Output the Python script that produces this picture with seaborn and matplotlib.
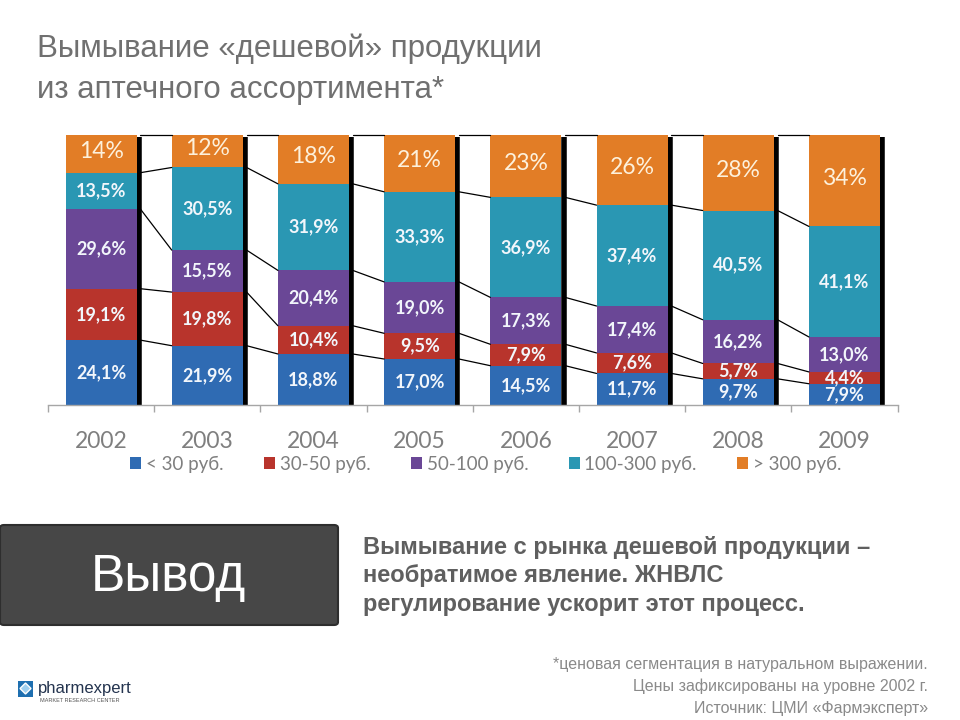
import numpy as np
import matplotlib
matplotlib.use("Agg")
import matplotlib.pyplot as plt
import seaborn as sns
from matplotlib.patches import FancyBboxPatch, Rectangle, Patch, Polygon

# ---- data ----
years = ["2002", "2003", "2004", "2005", "2006", "2007", "2008", "2009"]
segments = ["< 30 руб.", "30-50 руб.", "50-100 руб.", "100-300 руб.", "> 300 руб."]
lt30 = [24.1, 21.9, 18.8, 17.0, 14.5, 11.7, 9.7, 7.9]
r30_50 = [19.1, 19.8, 10.4, 9.5, 7.9, 7.6, 5.7, 4.4]
r50_100 = [29.6, 15.5, 20.4, 19.0, 17.3, 17.4, 16.2, 13.0]
r100_300 = [13.5, 30.5, 31.9, 33.3, 36.9, 37.4, 40.5, 41.1]
gt300 = [14, 12, 18, 21, 23, 26, 28, 34]
colors = ["#2f6bb3", "#b8342c", "#6a4796", "#2a97b3", "#e27d26"]

sns.set_theme(style="white")
plt.rcParams["font.family"] = ["Liberation Sans", "DejaVu Sans"]

vals = np.array([lt30, r30_50, r50_100, r100_300, gt300], dtype=float)
shares = vals / vals.sum(axis=0) * 100.0
cum = np.cumsum(shares, axis=0)
lower = cum - shares

fig = plt.figure(figsize=(9.6, 7.2), dpi=100)
ax = fig.add_axes([0.05, 1 - 405 / 720, 0.885, 270 / 720])

W = 0.67
n = len(years)
xs = np.arange(n)

# shadows on right of bars
ax.vlines(xs + W / 2 + 0.02, 0, 99.2, color="black", lw=4, zorder=0.8)

# stacked bars drawn as cumulative overlays (top first)
for k in range(len(segments) - 1, -1, -1):
    sns.barplot(x=years, y=cum[k], color=colors[k], width=W, saturation=1,
                linewidth=0, ax=ax, zorder=1)

# connecting lines
for k in range(len(segments)):
    for i in range(n - 1):
        ax.plot([i + W / 2 + 0.035, i + 1 - W / 2], [cum[k][i], cum[k][i + 1]],
                color="black", lw=0.9, zorder=2, clip_on=False)

# labels
for k in range(len(segments)):
    for i in range(n):
        mid = (lower[k][i] + cum[k][i]) / 2
        if k == 4:
            txt = f"{int(vals[k][i])}%"
            ax.text(i, mid + 1, txt, ha="center", va="center", fontsize=16.5,
                    color="#fdf1dc", family=["Lato", "DejaVu Sans"], zorder=3)
        else:
            txt = f"{vals[k][i]:.1f}%".replace(".", ",")
            ax.text(i, mid, txt, ha="center", va="center", fontsize=13,
                    fontweight="bold", color="#f2f6fb",
                    family=["Lato", "DejaVu Sans"], zorder=3)

ax.set_xlim(-0.5, n - 0.5)
ax.set_ylim(0, 100)
ax.set_yticks([])
ax.set_ylabel("")
ax.set_xlabel("")
for s in ["top", "left", "right"]:
    ax.spines[s].set_visible(False)
ax.spines["bottom"].set_color("#a6a6a6")
ax.spines["bottom"].set_linewidth(1)
ax.set_xticks(xs)
ax.set_xticklabels(years, fontsize=16.5, color="#7f7f7f", family=["Lato", "DejaVu Sans"])
ax.tick_params(axis="x", which="major", length=0, pad=19)
ax.set_xticks(np.arange(-0.5, n, 1.0), minor=True)
ax.tick_params(axis="x", which="minor", length=5, width=1, color="#a6a6a6", direction="out")
ax.tick_params(axis="x", which="minor", bottom=True)

# legend
handles = [Patch(facecolor=c, edgecolor="none") for c in colors]
fig.legend(handles, segments, loc="center", bbox_to_anchor=(0.506, 1 - 464 / 720),
           ncol=5, frameon=False, handlelength=0.6, handleheight=0.6,
           handletextpad=0.25, columnspacing=2.15,
           prop={"family": ["Lato", "DejaVu Sans"], "size": 13.5},
           labelcolor="#7f7f7f")

# title
fig.text(37 / 960, 1 - 33 / 720, "Вымывание «дешевой» продукции\nиз аптечного ассортимента*",
         ha="left", va="top", fontsize=22.5, color="#707070", linespacing=1.5)

# conclusion box
box = FancyBboxPatch((0, 1 - 625 / 720), 338 / 960, 100 / 720,
                     boxstyle="round,pad=0,rounding_size=0.004",
                     transform=fig.transFigure, facecolor="#474747",
                     edgecolor="#2e2e2e", lw=1.5)
fig.patches.append(box)
fig.text(168 / 960, 1 - 577 / 720, "Вывод", ha="center", va="center",
         fontsize=37, color="white")

fig.text(363 / 960, 1 - 536 / 720,
         "Вымывание с рынка дешевой продукции –\nнеобратимое явление. ЖНВЛС\nрегулирование ускорит этот процесс.",
         ha="left", va="top", fontsize=17, fontweight="bold", color="#5f5f5f",
         linespacing=1.3)

# footnote
fig.text(928 / 960, 1 - 657 / 720,
         "*ценовая сегментация в натуральном выражении.\nЦены зафиксированы на уровне 2002 г.\nИсточник: ЦМИ «Фармэксперт»",
         ha="right", va="top", fontsize=11.5, color="#8a8a8a", linespacing=1.55)

# logo
fig.patches.append(Rectangle((18 / 960, 1 - 697 / 720), 15 / 960, 16 / 720,
                             transform=fig.transFigure, facecolor="#1e6fb0",
                             edgecolor="none"))
fig.patches.append(Polygon([(25.5 / 960, 1 - 683 / 720), (31 / 960, 1 - 688.5 / 720),
                            (25.5 / 960, 1 - 694 / 720), (20 / 960, 1 - 688.5 / 720)],
                           closed=True, transform=fig.transFigure,
                           facecolor="#9fd0f0", edgecolor="white", lw=1))
fig.text(38 / 960, 1 - 688 / 720, "pharmexpert", ha="left", va="center",
         fontsize=12, color="#24344f")
fig.text(40 / 960, 1 - 701 / 720, "MARKET RESEARCH CENTER", ha="left", va="center",
         fontsize=4, color="#555555")

fig.savefig("out.png", dpi=100)
